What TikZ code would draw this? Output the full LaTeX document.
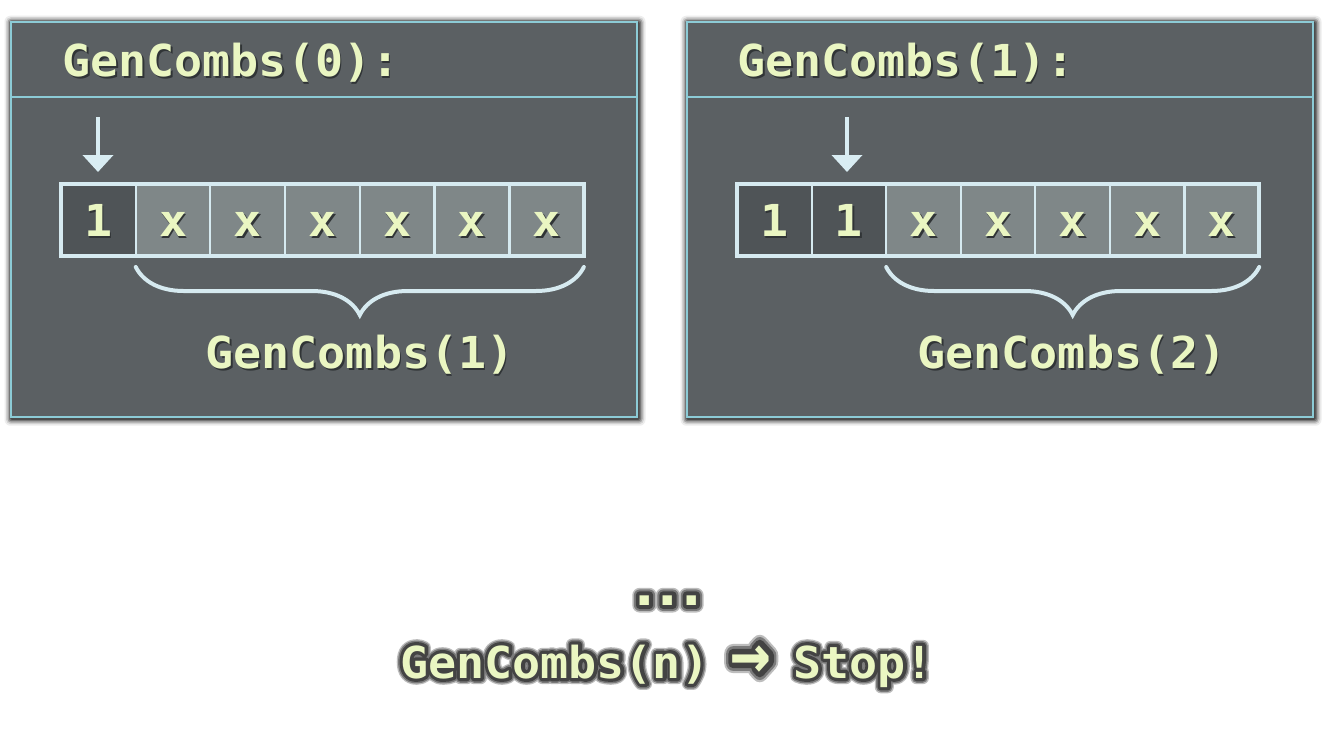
\documentclass[tikz,border=0pt]{standalone}
\usepackage{fontspec}
\usepackage{graphicx}
\usetikzlibrary{arrows.meta,decorations.pathreplacing,calc}
\newfontfamily\cmono{DejaVu Sans Mono Bold}[FakeStretch=1.06]
\newfontfamily\glowfA{DejaVu Sans Mono Bold}[FakeStretch=1.06,FakeBold=28]
\newfontfamily\glowfB{DejaVu Sans Mono Bold}[FakeStretch=1.06,FakeBold=22]
\newfontfamily\glowfC{DejaVu Sans Mono Bold}[FakeStretch=1.06,FakeBold=15]
\definecolor{panelfill}{HTML}{5B6063}
\definecolor{panelline}{HTML}{8CCBD6}
\definecolor{celldark}{HTML}{4F5457}
\definecolor{celllight}{HTML}{7F8788}
\definecolor{cellline}{HTML}{D6EAF0}
\definecolor{arrowc}{HTML}{D9EDF3}
\definecolor{textc}{HTML}{EAF6C2}
\definecolor{txtshadow}{HTML}{303436}
\definecolor{glowA}{HTML}{BDBDBD}
\definecolor{glowB}{HTML}{7A7A7A}
\definecolor{glowC}{HTML}{434343}
\definecolor{shA}{HTML}{EDEDED}
\definecolor{shB}{HTML}{D2D2D2}
\definecolor{shC}{HTML}{A6A6A6}
\definecolor{shD}{HTML}{767676}
\definecolor{shE}{HTML}{4C4C4C}
\newcommand\shtxt[1]{\rlap{\kern0.8pt\raisebox{-1pt}{\color{txtshadow}#1}}#1}
\newcommand\glowtxt[1]{\special{pdf:literal 1 j}\rlap{\glowfA\color{glowA}#1}\rlap{\glowfB\color{glowB}#1}\rlap{\glowfC\color{glowC}#1}#1}
\newcommand\bigarrow{\makebox[14.04pt]{\raisebox{-0.5pt}{\scalebox{1.45}[1.7]{→}}}}
\begin{document}
\begin{tikzpicture}[x=0.5pt,y=-0.5pt,
  every node/.style={font=\cmono\fontsize{22}{26}\selectfont, text=textc},
  panel/.style={draw=panelline, line width=1.1pt, fill=panelfill, minimum width=313pt, minimum height=197.5pt, inner sep=0pt, outer sep=0pt, anchor=north west},
  sepline/.style={draw=panelline, line width=1pt},
  cellbox/.style={draw=cellline, line width=1pt, minimum width=37.3pt, minimum height=36pt, inner sep=0pt, outer sep=0pt, text height=16pt, text depth=0pt},
  frame/.style={draw=cellline, line width=2pt},
  ptr/.style={draw=arrowc, line width=2pt, -{Triangle[width=15pt,length=8.5pt]}, shorten >=6pt},
  brc/.style={draw=cellline, line width=2pt, line cap=round, decorate, decoration={brace, mirror, amplitude=24pt}},
  ttl/.style={anchor=base west, inner sep=0pt},
  lbl/.style={anchor=base, inner sep=0pt}
]
\useasboundingbox (0,0) rectangle (1324,735);
\fill[white] (0,0) rectangle (1324,735);

% panel shadows
\node[panel, draw=none, fill=none] (S0) at (11,22) {};
\node[panel, draw=none, fill=none] (S1) at (687,22) {};
\foreach \p in {S0,S1}{
  \foreach \i/\c in {7.5/shA,6/shB,4.5/shC,3/shD,1.6/shE}{
    \fill[\c, rounded corners=\i*0.4pt] ($(\p.north west)+(-\i+1,-\i+1.2)$) rectangle ($(\p.south east)+(\i+1,\i+1.2)$);
  }
}
% panels
\node[panel] (P0) at (11,22) {};
\node[panel] (P1) at (687,22) {};
\draw[sepline] ($(P0.north west)+(0,75)$) -- ($(P0.north east)+(0,75)$);
\draw[sepline] ($(P1.north west)+(0,75)$) -- ($(P1.north east)+(0,75)$);

% titles
\node[ttl] (t0) at (62,76) {\shtxt{GenCombs(0):}};
\node[ttl] (t1) at (737,76) {\shtxt{GenCombs(1):}};

% left array
\foreach \i/\t/\f in {1/1/celldark,2/x/celllight,3/x/celllight,4/x/celllight,5/x/celllight,6/x/celllight,7/x/celllight}{
  \node[cellbox, fill=\f] (a\i) at ({61+74.7*(\i-0.5)},220) {\shtxt{\t}};
}
\draw[frame] (a1.north west) rectangle (a7.south east);
\draw[draw=cellline, line width=1.5pt] (a7.north west) -- (a7.south west);

% right array
\foreach \i/\t/\f in {1/1/celldark,2/1/celldark,3/x/celllight,4/x/celllight,5/x/celllight,6/x/celllight,7/x/celllight}{
  \node[cellbox, fill=\f] (b\i) at ({737+74.6*(\i-0.5)},220) {\shtxt{\t}};
}
\draw[frame] (b1.north west) rectangle (b7.south east);
\draw[draw=cellline, line width=1.5pt] (b7.north west) -- (b7.south west);

% pointers
\coordinate (p0) at (98,117);
\coordinate (p1) at (847,117);
\draw[ptr] (p0) -- (p0 |- a1.north);
\draw[ptr] (p1) -- (p1 |- b2.north);

% braces
\draw[brc] ([yshift=-5.5pt]a2.south west) -- ([yshift=-5.5pt]a7.south east);
\draw[brc] ([yshift=-5.5pt]b3.south west) -- ([yshift=-5.5pt]b7.south east);

% labels
\node[lbl] (l0) at (360,368) {\shtxt{GenCombs(1)}};
\node[lbl] (l1) at (1072,368) {\shtxt{GenCombs(2)}};

% bottom
\node[lbl, font=\cmono\fontsize{27}{30}\selectfont] (dots) at (668,605) {\glowtxt{.\kern-5.5pt.\kern-5.5pt.}};
\node[lbl] (stop) at (667,678) {\glowtxt{GenCombs(n) \bigarrow{} Stop!}};
\end{tikzpicture}
\end{document}
